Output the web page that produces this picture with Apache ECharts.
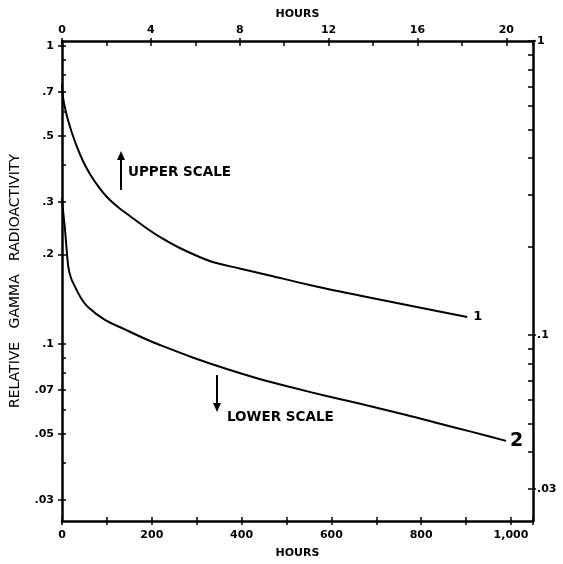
<!DOCTYPE html>
<html>
<head>
<meta charset="utf-8">
<script src="https://cdn.jsdelivr.net/npm/echarts@6/dist/echarts.min.js"></script>
<style>html,body{margin:0;padding:0;background:#fff}#c{width:563px;height:564px}</style>
</head>
<body>
<div id="c"></div>
<script>
// Curve 1 (upper scale, hours 0-21)
var upperHours  = [0, 0.045, 0.135, 0.27, 0.449, 0.674, 0.943, 1.258, 1.617, 2.021, 2.516, 3.055, 3.729, 4.403, 5.301, 6.649, 7.996, 9.344, 11.141, 13.387, 15.633, 18.239];
var upperValues = [0.746, 0.674, 0.619, 0.5645, 0.5105, 0.4582, 0.4112, 0.3719, 0.339, 0.3113, 0.2882, 0.2689, 0.2469, 0.2286, 0.2099, 0.1899, 0.1792, 0.1698, 0.1578, 0.1455, 0.1346, 0.1232];
// Curve 2 (lower scale, hours 0-1050)
var lowerHours  = [0, 2.2, 6.7, 14, 20, 28.9, 42.2, 57.8, 95.6, 140, 191, 218, 291, 367, 440, 513, 589, 662, 767, 840, 913, 989];
var lowerValues = [0.309, 0.2817, 0.2413, 0.1817, 0.1665, 0.1557, 0.1427, 0.1331, 0.1204, 0.1119, 0.1031, 0.0992, 0.0901, 0.0824, 0.0763, 0.0714, 0.0669, 0.0631, 0.0578, 0.0541, 0.0507, 0.0473];
// Tick values
var yTicks = [1, 0.9, 0.8, 0.7, 0.6, 0.5, 0.4, 0.3, 0.2, 0.1, 0.09, 0.08, 0.07, 0.06, 0.05, 0.04, 0.03];
var yLeftLabels = [1, 0.7, 0.5, 0.3, 0.2, 0.1, 0.07, 0.05, 0.03];
var yRightLabels = [1, 0.1, 0.03];
var topLabels = [0, 4, 8, 12, 16, 20];
var bottomLabels = [0, 200, 400, 600, 800, 1000];

var FONT = 'DejaVu Sans';
function fmtY(v){ v = +(+v).toPrecision(2); return v === 1 ? '1' : String(v).replace(/^0/, ''); }

var chart = echarts.init(document.getElementById('c'), null, {renderer:'canvas'});
var axisLine = {show:true, onZero:false, lineStyle:{color:'#000', width:2.5}};
var noLine = {show:false, onZero:false};
var txt = {color:'#000', fontFamily:FONT, fontSize:11, fontWeight:'bold'};
var tickStyle = {color:'#000', width:1.5};

chart.setOption({
  animation:false,
  backgroundColor:'#fff',
  grid:{left:62, right:30, top:41, bottom:43, containLabel:false, outerBoundsMode:'none'},
  xAxis:[
    {type:'value', position:'bottom', min:0, max:1049, interval:100,
     axisLine:axisLine, splitLine:{show:false},
     axisTick:{show:true, inside:false, length:4, lineStyle:tickStyle},
     axisLabel:Object.assign({margin:9, customValues:bottomLabels, formatter:function(v){return v===1000?'1,000':String(v);}}, txt),
     name:'HOURS', nameLocation:'middle', nameGap:27,
     nameTextStyle:{color:'#000', fontFamily:FONT, fontSize:11, fontWeight:'bold'}},
    {type:'value', position:'top', min:0, max:21.2, interval:2,
     axisLine:axisLine, splitLine:{show:false},
     axisTick:{show:true, inside:true, length:5, lineStyle:tickStyle},
     axisLabel:Object.assign({margin:5, customValues:topLabels}, txt),
     name:'HOURS', nameLocation:'middle', nameGap:19,
     nameTextStyle:{color:'#000', fontFamily:FONT, fontSize:11, fontWeight:'bold'}},
    {type:'value', position:'bottom', min:0, max:1049, interval:100,
     axisLine:noLine, splitLine:{show:false}, axisLabel:{show:false},
     axisTick:{show:true, inside:true, length:4, lineStyle:tickStyle}},
    {type:'value', position:'top', min:0, max:21.2, interval:2,
     axisLine:noLine, splitLine:{show:false}, axisLabel:{show:false},
     axisTick:{show:true, inside:false, length:3, customValues:topLabels, lineStyle:tickStyle}}
  ],
  yAxis:[
    {type:'log', position:'left', min:0.02547, max:1.039,
     axisLine:axisLine, splitLine:{show:false},
     axisTick:{show:true, inside:true, length:4, customValues:yTicks, lineStyle:tickStyle},
     axisLabel:Object.assign({margin:8, customValues:yLeftLabels, formatter:fmtY}, txt),
     name:'RELATIVE   GAMMA   RADIOACTIVITY', nameLocation:'middle', nameGap:40,
     nameTextStyle:{color:'#000', fontFamily:FONT, fontSize:14}},
    {type:'log', position:'right', min:0.02329, max:1,
     axisLine:axisLine, splitLine:{show:false},
     axisTick:{show:true, inside:true, length:5, customValues:yTicks, lineStyle:tickStyle},
     axisLabel:Object.assign({margin:4, customValues:yRightLabels, formatter:fmtY}, txt)},
    {type:'log', position:'left', min:0.02547, max:1.039,
     axisLine:noLine, splitLine:{show:false}, axisLabel:{show:false},
     axisTick:{show:true, inside:false, length:4, customValues:yLeftLabels, lineStyle:tickStyle}},
    {type:'log', position:'right', min:0.02329, max:1,
     axisLine:noLine, splitLine:{show:false}, axisLabel:{show:false},
     axisTick:{show:true, inside:false, length:3, customValues:yRightLabels, lineStyle:tickStyle}}
  ],
  series:[
    {type:'line', xAxisIndex:1, yAxisIndex:0, smooth:0.3, symbol:'none',
     lineStyle:{color:'#000', width:2},
     data:upperHours.map(function(h,i){return [h, upperValues[i]];}),
     endLabel:{show:true, formatter:'1', distance:6, color:'#000', fontFamily:FONT, fontSize:13, fontWeight:'bold'}},
    {type:'line', xAxisIndex:0, yAxisIndex:0, smooth:0.3, symbol:'none',
     lineStyle:{color:'#000', width:2},
     data:lowerHours.map(function(h,i){return [h, lowerValues[i]];}),
     endLabel:{show:true, formatter:'2', distance:4, color:'#000', fontFamily:FONT, fontSize:19, fontWeight:'bold'}}
  ],
  graphic:[
    {type:'line', shape:{x1:121, y1:190, x2:121, y2:158}, style:{stroke:'#000', lineWidth:2}},
    {type:'polygon', shape:{points:[[117,160],[125,160],[121,151]]}, style:{fill:'#000'}},
    {type:'text', left:128, top:165, style:{text:'UPPER SCALE', fill:'#000', font:'bold 13.5px "DejaVu Sans"'}},
    {type:'line', shape:{x1:217, y1:375, x2:217, y2:405}, style:{stroke:'#000', lineWidth:2}},
    {type:'polygon', shape:{points:[[213,403],[221,403],[217,412]]}, style:{fill:'#000'}},
    {type:'text', left:227, top:410, style:{text:'LOWER SCALE', fill:'#000', font:'bold 13.5px "DejaVu Sans"'}}
  ]
});
</script>
</body>
</html>
